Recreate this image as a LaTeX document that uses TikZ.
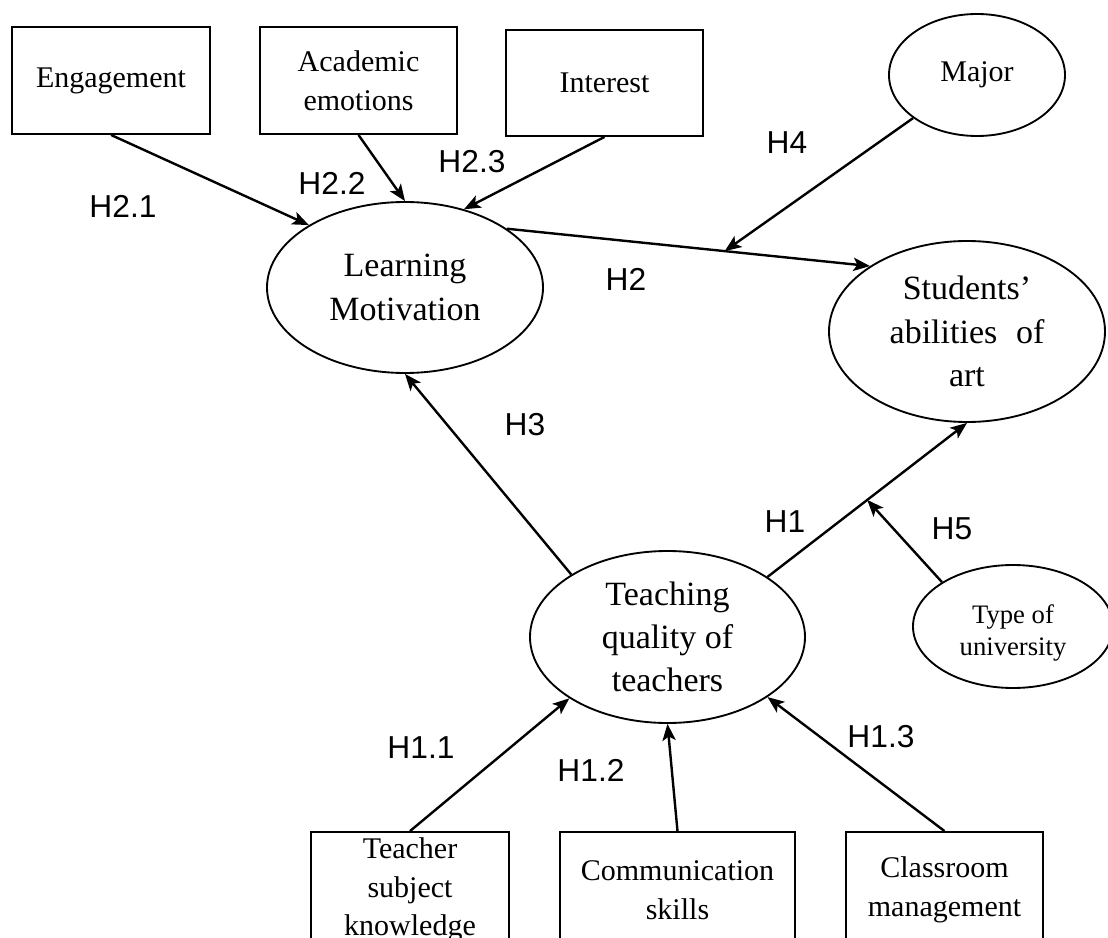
\documentclass[tikz,border=0pt]{standalone}
\usepackage{fontspec}
\setmainfont{Liberation Serif}
\newfontfamily\lblfont{Liberation Sans}
\usetikzlibrary{shapes.geometric,arrows.meta}
\begin{document}
\begin{tikzpicture}[x=0.75pt,y=-0.75pt,
  box/.style={draw,line width=1.4pt,rectangle,inner sep=0pt,align=center,font=\fontsize{22.5}{29}\selectfont},
  ell/.style={draw,line width=1.4pt,ellipse,inner sep=0pt,align=center,font=\fontsize{25.5}{32.5}\selectfont},
  conn/.style={line width=1.8pt,-{Stealth[length=12.5pt,width=10pt,inset=3pt]}},
  hyp/.style={font=\lblfont\fontsize{23.8}{28}\selectfont,inner sep=0pt}
]
\useasboundingbox (0,0) rectangle (1108,938);
\clip (0,0) rectangle (1108,938);

% top boxes
\node[box,minimum width=148.5pt,minimum height=80.25pt] (eng) at (111,80.5) {Engagement};
\node[box,minimum width=147.75pt,minimum height=80.25pt] (acad) at (358.5,80.5) {Academic\\emotions};
\node[box,minimum width=147.75pt,minimum height=79.5pt] (intr) at (604.5,83) {Interest};
\node[ell,minimum width=132pt,minimum height=91.5pt,font=\fontsize{22.5}{29}\selectfont] (major) at (977,75) {Major};

% ellipses
\node[ell,minimum width=207pt,minimum height=128.25pt] (lm) at (405,287.5) {Learning\\Motivation};
\node[ell,minimum width=207pt,minimum height=135.75pt] (stu) at (967,331.5) {Students’\\abilities\hspace{0.3em} of\\art};
\node[ell,minimum width=206.25pt,minimum height=129pt] (tq) at (667.5,637) {Teaching\\quality of\\teachers};
\node[ell,minimum width=150pt,minimum height=92.25pt] (tou) at (1013,626.5) {};
\node[align=center,inner sep=0pt,font=\fontsize{20}{24}\selectfont] (toutext) at (1013,633) {Type of\\university};

% bottom boxes
\node[box,minimum width=148.5pt,minimum height=87pt] (tsk) at (410,890) {Teacher\\subject\\knowledge};
\node[box,minimum width=176.25pt,minimum height=87pt] (comm) at (677.5,890) {Communication\\skills};
\node[box,minimum width=147.75pt,minimum height=87pt] (cls) at (944.5,890) {Classroom\\management};

% connectors
\draw[conn] (eng.south) -- (lm.147.6);
\draw[conn] (acad.south) -- (lm.north);
\draw[conn] (intr.south) -- (lm.53.6);
\draw[conn] (lm.30.7) -- (stu.146.4);
\path (lm.30.7) -- (stu.146.4) coordinate[pos=0.6] (h4pt);
\draw[conn] (major.214.5) -- (h4pt);
\draw[conn] (tq.147.5) -- (lm.south);
\draw[conn] (tq.31.9) -- (stu.south);
\path (tq.31.9) -- (stu.south) coordinate[pos=0.5] (h5pt);
\draw[conn] (tou.148.1) -- (h5pt);
\draw[conn] (tsk.north) -- (tq.212.7);
\draw[conn] (comm.north) -- (tq.south);
\draw[conn] (cls.north) -- (tq.-31.3);

% hypothesis labels
\node[hyp] (l21) at (123,206) {H2.1};
\node[hyp] (l22) at (332,183) {H2.2};
\node[hyp] (l23) at (472,162) {H2.3};
\node[hyp] (l4) at (787,143) {H4};
\node[hyp] (l2) at (626,279) {H2};
\node[hyp] (l3) at (525,425) {H3};
\node[hyp] (l1) at (785,522) {H1};
\node[hyp] (l5) at (952,529) {H5};
\node[hyp] (l11) at (421,748) {H1.1};
\node[hyp] (l12) at (591,770) {H1.2};
\node[hyp] (l13) at (881,737) {H1.3};
\end{tikzpicture}
\end{document}
